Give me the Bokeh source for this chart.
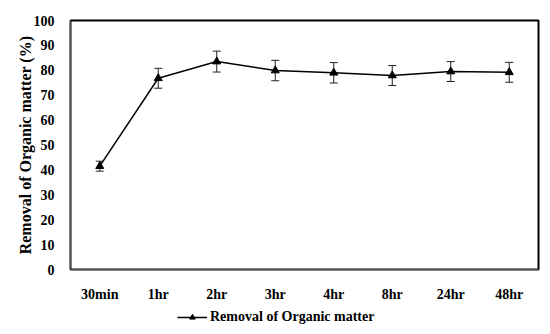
from bokeh.plotting import figure
from bokeh.layouts import column
from bokeh.models import ColumnDataSource, Whisker, TeeHead, Legend, LegendItem, Range1d, FixedTicker
from bokeh.embed import file_html
from bokeh.resources import INLINE

times = ["30min", "1hr", "2hr", "3hr", "4hr", "8hr", "24hr", "48hr"]
removal = [41.5, 76.8, 83.5, 79.9, 79.0, 77.9, 79.5, 79.2]
err = [2.0, 4.0, 4.2, 4.1, 4.1, 4.0, 4.0, 4.0]
series_name = "Removal of Organic matter"

src = ColumnDataSource(dict(
    x=times, y=removal,
    upper=[v + e for v, e in zip(removal, err)],
    lower=[v - e for v, e in zip(removal, err)],
))

FONT = "Liberation Serif"
W = 542
BL, BR = 70, 4

p = figure(width=W, height=306, x_range=times, y_range=Range1d(0, 100),
           output_backend="svg", toolbar_location=None,
           min_border_left=BL, min_border_right=BR, min_border_top=20, min_border_bottom=37)

p.xgrid.grid_line_color = None
p.ygrid.grid_line_color = None
p.outline_line_color = "black"
p.outline_line_width = 2

w = Whisker(source=src, base="x", upper="upper", lower="lower",
            line_color="#222222", line_width=1,
            upper_head=TeeHead(size=8, line_color="#222222", line_width=1),
            lower_head=TeeHead(size=8, line_color="#222222", line_width=1))
p.add_layout(w)

ln = p.line("x", "y", source=src, line_color="black", line_width=1.5)
mk = p.scatter("x", "y", source=src, marker="triangle", size=8,
               fill_color="black", line_color="black")

p.yaxis.ticker = FixedTicker(ticks=list(range(0, 101, 10)))
for ax in (p.xaxis[0], p.yaxis[0]):
    ax.axis_line_color = "#555555"
    ax.axis_line_width = 1
    ax.major_tick_line_color = None
    ax.minor_tick_line_color = None
    ax.major_label_text_font = FONT
    ax.major_label_text_font_style = "bold"
    ax.major_label_text_font_size = "14px"
    ax.major_label_text_color = "black"
p.yaxis.major_label_standoff = 10
p.xaxis.major_label_standoff = 11

p.yaxis.axis_label = "Removal of Organic matter (%)"
p.yaxis.axis_label_text_font = FONT
p.yaxis.axis_label_text_font_style = "bold"
p.yaxis.axis_label_text_font_size = "16px"
p.yaxis.axis_label_text_color = "black"
p.yaxis.axis_label_standoff = -3

# legend strip below the chart
lg = figure(width=W, height=20, x_range=Range1d(0, 1), y_range=Range1d(0, 1),
            output_backend="svg", toolbar_location=None,
            x_axis_type=None, y_axis_type=None,
            min_border_left=BL, min_border_right=BR, min_border_top=0, min_border_bottom=0)
lg.outline_line_color = None
lg.xgrid.grid_line_color = None
lg.ygrid.grid_line_color = None
kl = lg.line(x=[float("nan")], y=[float("nan")], line_color="black", line_width=1.5)
km = lg.scatter(x=[float("nan")], y=[float("nan")], marker="triangle", size=8,
                fill_color="black", line_color="black")
legend = Legend(items=[LegendItem(label=series_name, renderers=[kl, km])],
                location=(107, 1), orientation="horizontal",
                padding=0, margin=0, spacing=0,
                glyph_width=30, glyph_height=14, label_height=14,
                label_standoff=3,
                label_text_font=FONT, label_text_font_style="bold",
                label_text_font_size="14px", label_text_color="black",
                border_line_color=None, background_fill_alpha=0)
lg.add_layout(legend, "center")

layout = column(p, lg, spacing=0)
open("out.html", "w").write(file_html(layout, INLINE))
